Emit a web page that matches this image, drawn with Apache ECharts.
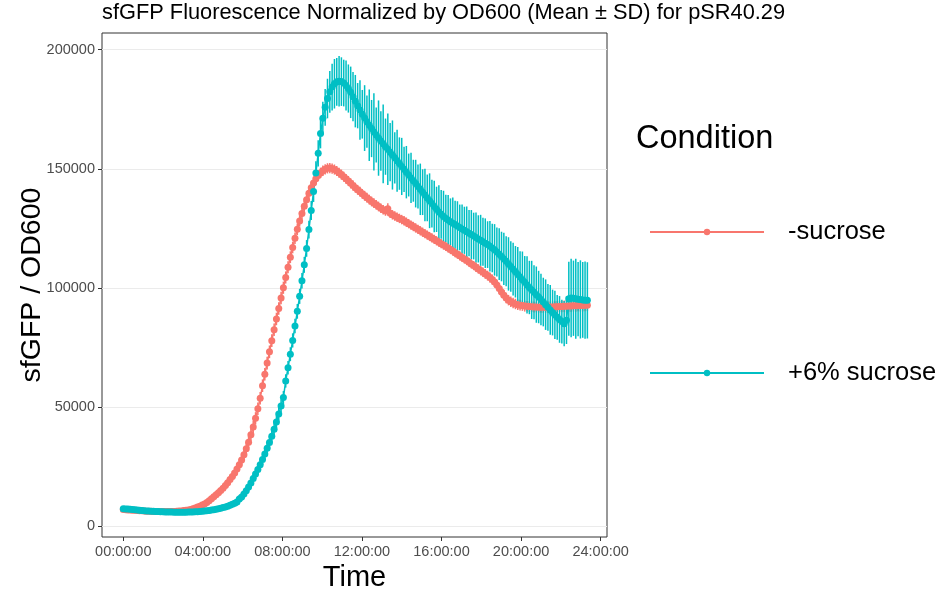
<!DOCTYPE html>
<html>
<head>
<meta charset="utf-8">
<script src="https://cdn.jsdelivr.net/npm/echarts@6/dist/echarts.min.js"></script>
<style>
  html, body { margin: 0; padding: 0; background: #fff; }
  #chart { width: 947px; height: 590px; }
</style>
</head>
<body>
<div id="chart"></div>
<script>
// plate reader read every 7 minutes, 00:00:00 .. 23:20:00
var stepMinutes = 7;
var xTicks = [0, 4, 8, 12, 16, 20, 24];
var yTicks = [0, 50000, 100000, 150000, 200000];
var seriesNames = ["-sucrose", "+6% sucrose"];

// -sucrose : mean sfGFP/OD600
var noSucMean = [
  7050, 6960, 6880, 6820, 6740, 6690, 6600, 6540, 6470, 6400,
  6350, 6300, 6270, 6230, 6200, 6180, 6160, 6150, 6150, 6160,
  6180, 6210, 6250, 6300, 6370, 6460, 6570, 6700, 6860, 7050,
  7400, 7700, 8050, 8450, 8900, 9400, 10000, 10700, 11500, 12350,
  13200, 14100, 15000, 16000, 17100, 18300, 19600, 20900, 22400, 24000,
  25800, 27800, 30000, 32500, 35300, 38400, 41700, 45300, 49300, 53700,
  59000, 63800, 68500, 73200, 77900, 82500, 87000, 91400, 95800, 100100,
  104400, 108700, 112900, 117000, 120900, 124600, 128100, 131300, 134300, 137000,
  139800, 142100, 144100, 145800, 147200, 148300, 149200, 149800, 150200, 150300,
  150100, 149700, 149100, 148400, 147600, 146700, 145800, 144900, 143900, 143000,
  142100, 141200, 140400, 139500, 138700, 137900, 137100, 136300, 135600, 134900,
  134200, 133500, 132800, 132300, 133200, 131400, 130700, 130200, 129700, 129200,
  128700, 128200, 127600, 127000, 126400, 125800, 125200, 124600, 124000, 123400,
  122800, 122200, 121600, 121000, 120400, 119800, 119200, 118600, 118000, 117400,
  116800, 116100, 115500, 114800, 114200, 113500, 112800, 112200, 111500, 110800,
  110100, 109400, 108700, 108000, 107300, 106600, 105900, 105200, 104400, 103600,
  102500, 101300, 99800, 98300, 97000, 95800, 94900, 94200, 93700, 93300,
  93000, 92800, 92600, 92400, 92300, 92200, 92100, 92000, 92000, 91900,
  91900, 91900, 91900, 92000, 92000, 92000, 92100, 92100, 92200, 92200,
  92300, 92300, 92400, 92400, 92500, 92500, 92600, 92600, 92600, 92700,
  92700
];
var noSucSd = [
  900, 880, 860, 850, 830, 820, 800, 800, 790, 780,
  780, 770, 770, 760, 760, 760, 760, 770, 770, 780,
  780, 790, 800, 810, 820, 840, 860, 880, 900, 930,
  960, 1000, 1040, 1090, 1140, 1200, 1260, 1320, 1390, 1460,
  1530, 1600, 1680, 1760, 1840, 1920, 2000, 2080, 2150, 2220,
  2290, 2350, 2400, 2450, 2500, 2540, 2570, 2600, 2620, 2640,
  2650, 2660, 2660, 2660, 2650, 2640, 2630, 2610, 2590, 2570,
  2540, 2510, 2480, 2450, 2420, 2390, 2360, 2330, 2300, 2280,
  2260, 2240, 2220, 2200, 2190, 2180, 2170, 2160, 2150, 2140,
  2130, 2120, 2110, 2100, 2100, 2090, 2080, 2080, 2070, 2060,
  2060, 2050, 2050, 2040, 2040, 2030, 2030, 2020, 2020, 2010,
  2010, 2000, 2000, 2000, 2400, 2000, 1990, 1990, 1980, 1980,
  1980, 1970, 1970, 1960, 1960, 1960, 1950, 1950, 1940, 1940,
  1940, 1930, 1930, 1920, 1920, 1920, 1910, 1910, 1900, 1900,
  1900, 1900, 1900, 1900, 1900, 1900, 1900, 1900, 1900, 1900,
  1900, 1900, 1950, 1950, 2000, 2000, 2050, 2050, 2100, 2100,
  2150, 2150, 2200, 2200, 2200, 2200, 2200, 2200, 2200, 2200,
  2200, 2300, 2200, 2300, 2200, 2300, 2200, 2300, 2200, 2300,
  2300, 2400, 2300, 2400, 2300, 2400, 2300, 2400, 2300, 2400,
  2400, 2500, 2400, 2500, 2400, 2500, 2400, 2500, 2400, 2500,
  2400
];

// +6% sucrose : mean sfGFP/OD600
var sucMean = [
  7400, 7300, 7200, 7100, 7000, 6900, 6800, 6700, 6600, 6520,
  6450, 6380, 6320, 6260, 6200, 6150, 6100, 6060, 6020, 5990,
  5960, 5940, 5920, 5910, 5900, 5900, 5910, 5930, 5950, 5980,
  6020, 6070, 6130, 6200, 6290, 6390, 6500, 6630, 6780, 6950,
  7130, 7340, 7570, 7830, 8120, 8450, 8820, 9240, 9700, 10200,
  11400, 12300, 13500, 14900, 16500, 18200, 20000, 21900, 23800, 25800,
  28000, 30300, 32700, 35200, 37800, 40700, 43800, 47100, 50500, 54000,
  61000, 66500, 72200, 78000, 84000, 90200, 96500, 103000, 109700, 116600,
  124500, 132500, 140500, 148300, 156500, 164800, 171200, 175800, 179500, 182300,
  184300, 185700, 186500, 186800, 186600, 186000, 185000, 183700, 182100, 180300,
  178400, 176500, 174700, 172900, 171300, 169800, 168300, 166900, 165500, 164200,
  162900, 161700, 160500, 159300, 158200, 157000, 155800, 154600, 153400, 152200,
  151000, 149800, 148600, 147400, 146200, 145000, 143800, 142600, 141400, 140200,
  139000, 137800, 136600, 135400, 134200, 133000, 131900, 130900, 130000, 129200,
  128500, 127800, 127200, 126600, 126000, 125400, 124800, 124200, 123600, 123000,
  122400, 121800, 121200, 120600, 120000, 119400, 118800, 118200, 117500, 116800,
  116000, 115100, 114200, 113200, 112200, 111200, 110100, 109000, 107900, 106800,
  105700, 104600, 103500, 102400, 101300, 100200, 99200, 98200, 97200, 96200,
  95200, 94100, 93000, 91900, 90800, 89700, 88700, 87700, 86800, 85900,
  85000, 86500, 95500, 95800, 95700, 95500, 95300, 95200, 95000, 94900,
  94800
];
var sucSd = [
  900, 880, 860, 850, 830, 820, 800, 800, 790, 780,
  780, 770, 760, 760, 750, 750, 750, 750, 750, 750,
  750, 750, 750, 750, 750, 750, 760, 760, 770, 780,
  790, 800, 810, 830, 850, 870, 890, 920, 950, 980,
  1010, 1050, 1090, 1130, 1180, 1230, 1280, 1340, 1400, 1460,
  1520, 1580, 1650, 1720, 1790, 1860, 1930, 2000, 2070, 2140,
  2200, 2260, 2320, 2380, 2440, 2500, 2560, 2620, 2680, 2740,
  2800, 2860, 2920, 2980, 3040, 3100, 3170, 3250, 3350, 3500,
  3700, 4000, 4400, 4900, 5500, 6200, 7000, 7700, 8300, 8800,
  9800, 10400, 10000, 10600, 10200, 9800, 10500, 10100, 10800, 10300,
  11000, 9500, 12500, 10200, 13800, 11000, 15000, 12000, 16200, 11500,
  15800, 12500, 16500, 11800, 15000, 12200, 14500, 10800, 13000, 11000,
  12000, 9500, 11000, 9000, 10500, 8800, 10000, 9200, 10800, 9600,
  11000, 9800, 11500, 10000, 10800, 9500, 11200, 10200, 10800, 9900,
  10500, 9800, 10800, 10000, 10400, 9600, 10200, 9900, 10600, 9700,
  10300, 9800, 10500, 9900, 10700, 10100, 10400, 9800, 10600, 10200,
  10800, 10300, 10900, 10400, 11000, 10500, 11200, 10600, 11100, 10800,
  11500, 10800, 11800, 11000, 12000, 11200, 12200, 11300, 11800, 11000,
  10800, 10200, 10600, 9800, 10400, 9600, 10100, 9400, 9800, 9200,
  9500, 10000, 15500, 16500, 15800, 16800, 15600, 16400, 15900, 16200,
  16000
];

var colors = ["#F8766D", "#00BFC4"];
var font = "'Liberation Sans', Arial, sans-serif";

function hoursOf(i) { return i * stepMinutes / 60; }
function pointsOf(mean) {
  return mean.map(function (v, i) { return [hoursOf(i), v]; });
}
function barsOf(mean, sd) {
  return mean.map(function (v, i) { return [hoursOf(i), v - sd[i], v + sd[i]]; });
}
function pad2(n) { return (n < 10 ? "0" : "") + n; }

function errorBars(name, data, color) {
  return {
    name: name,
    type: "custom",
    data: data,
    encode: { x: 0, y: [1, 2] },
    silent: true,
    z: 1,
    renderItem: function (params, api) {
      var lo = api.coord([api.value(0), api.value(1)]);
      var hi = api.coord([api.value(0), api.value(2)]);
      return {
        type: "line",
        shape: { x1: lo[0], y1: lo[1], x2: hi[0], y2: hi[1] },
        style: { stroke: color, lineWidth: 1.5 }
      };
    }
  };
}

function meanLine(name, data, color) {
  return {
    name: name,
    type: "line",
    data: data,
    z: 2,
    symbol: "circle",
    symbolSize: 7,
    showAllSymbol: true,
    lineStyle: { color: color, width: 1.5 },
    itemStyle: { color: color }
  };
}

var myChart = echarts.init(document.getElementById("chart"));
var option = {
  animation: false,
  textStyle: { fontFamily: font },
  title: [{
    text: "sfGFP Fluorescence Normalized by OD600 (Mean ± SD) for pSR40.29",
    left: 102,
    top: 2,
    padding: 0,
    textStyle: { fontFamily: font, fontSize: 21.8, fontWeight: "normal", color: "#000" }
  }, {
    text: "Condition",
    left: 636,
    top: 123,
    padding: 0,
    textStyle: { fontFamily: font, fontSize: 32.5, fontWeight: "normal", color: "#000" }
  }],
  legend: {
    data: seriesNames,
    orient: "vertical",
    left: 649,
    top: 217,
    itemWidth: 114,
    itemHeight: 8,
    itemGap: 111,
    padding: 0,
    textStyle: { fontFamily: font, fontSize: 25.5, color: "#000", lineHeight: 30, padding: [0, 0, 0, 19] }
  },
  grid: {
    left: 102,
    right: 340,
    top: 33,
    bottom: 53,
    containLabel: false,
    outerBoundsMode: "none",
    show: true,
    borderColor: "#333333",
    borderWidth: 1,
    backgroundColor: "#fff"
  },
  xAxis: {
    type: "value",
    min: -1.07,
    max: 24.32,
    name: "Time",
    nameLocation: "middle",
    nameGap: 22,
    nameTextStyle: { fontFamily: font, fontSize: 29, color: "#000" },
    axisLine: { show: false, onZero: false },
    axisTick: { show: true, length: 4, customValues: xTicks, lineStyle: { color: "#333333" } },
    axisLabel: {
      customValues: xTicks,
      margin: 7,
      fontFamily: font,
      fontSize: 14.5,
      color: "#4D4D4D",
      formatter: function (v) { return pad2(Math.round(v)) + ":00:00"; }
    },
    splitLine: { show: false }
  },
  yAxis: {
    type: "value",
    min: -4500,
    max: 207000,
    name: "sfGFP / OD600",
    nameLocation: "middle",
    nameRotate: 90,
    nameGap: 55,
    nameMoveOverlap: false,
    nameTextStyle: { fontFamily: font, fontSize: 28.5, color: "#000" },
    axisLine: { show: false, onZero: false },
    axisTick: { show: true, length: 4, customValues: yTicks, lineStyle: { color: "#333333" } },
    axisLabel: {
      customValues: yTicks,
      margin: 7,
      fontFamily: font,
      fontSize: 14.5,
      color: "#4D4D4D",
      formatter: function (v) { return String(v); }
    },
    splitLine: { show: true, lineStyle: { color: "#EBEBEB", width: 1.2 } }
  },
  series: [
    errorBars("sd-sucrose", barsOf(noSucMean, noSucSd), colors[0]),
    errorBars("sd+6% sucrose", barsOf(sucMean, sucSd), colors[1]),
    meanLine(seriesNames[0], pointsOf(noSucMean), colors[0]),
    meanLine(seriesNames[1], pointsOf(sucMean), colors[1])
  ]
};
myChart.setOption(option);
</script>
</body>
</html>
